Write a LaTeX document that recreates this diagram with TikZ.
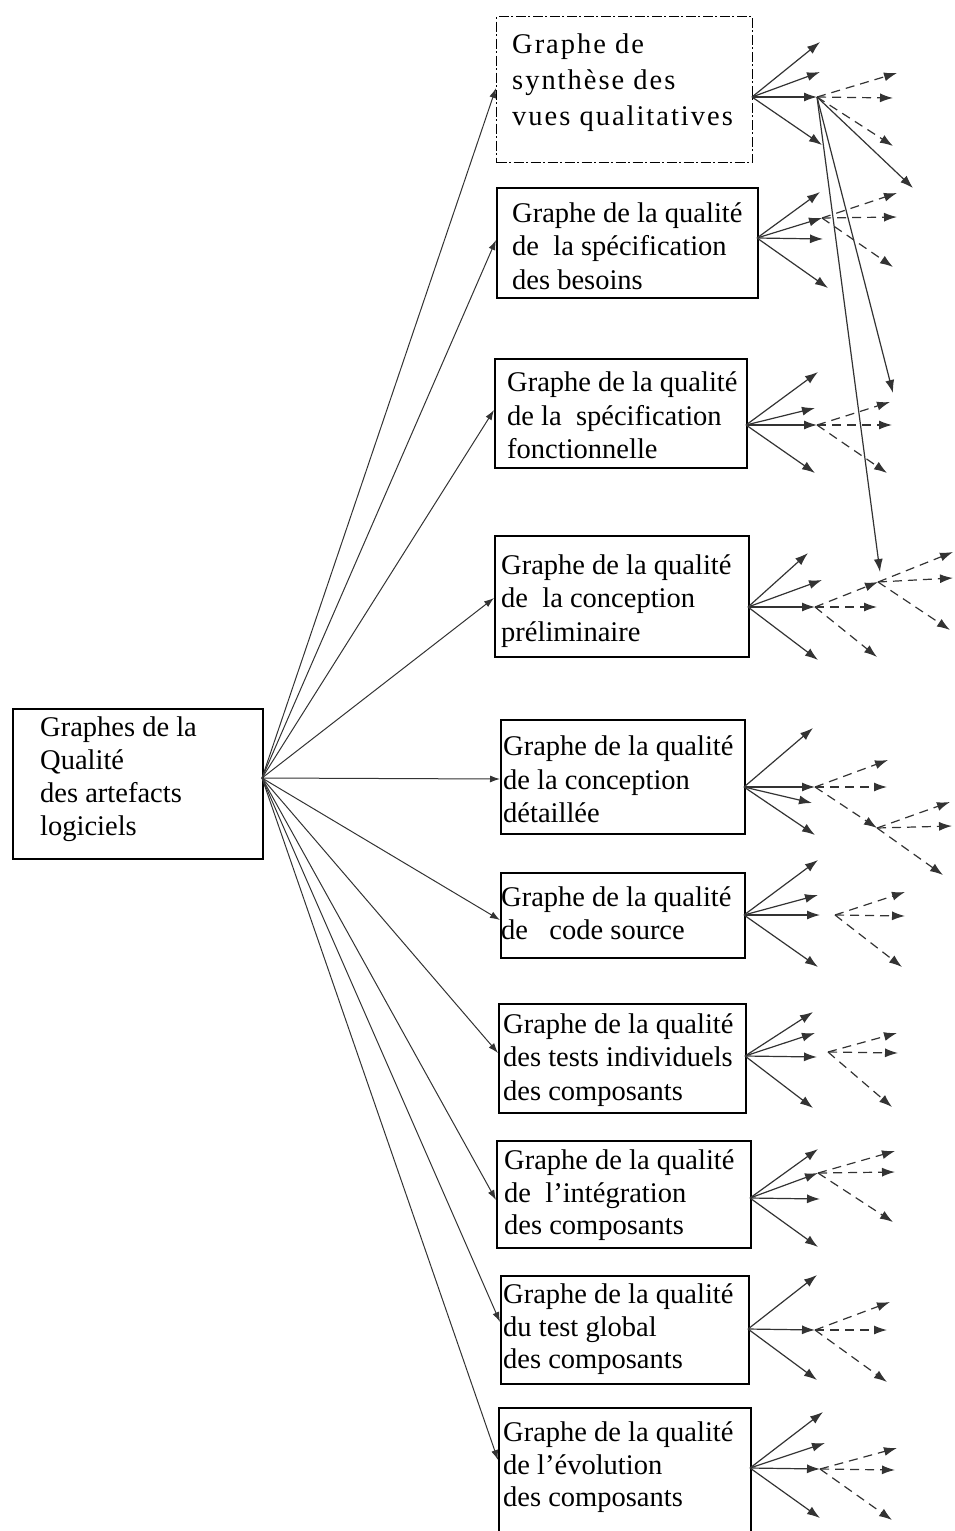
\documentclass[tikz,border=0pt]{standalone}
\usepackage{fontspec}
\setmainfont{Liberation Serif}
\usetikzlibrary{arrows.meta,calc}
\begin{document}
\begin{tikzpicture}[x=1pt,y=-1pt,
  gbox/.style={draw=black, line width=1.6pt, inner sep=0pt, anchor=north west},
  dashdotbox/.style={gbox, line width=1.4pt, dash pattern=on 10pt off 2.5pt on 2pt off 2.5pt},
  txt/.style={inner sep=0pt, align=left, anchor=west, font=\fontsize{28.5}{33.5}\selectfont},
  farr/.style={draw=black!80, line width=1pt, -{Latex[length=10pt,width=7pt]}},
  sarr/.style={draw=black!80, line width=1.2pt, -{Latex[length=13pt,width=9pt]}},
  darr/.style={draw=black!80, line width=1.2pt, dash pattern=on 9pt off 6pt, -{Latex[length=13pt,width=9pt]}}
]
\useasboundingbox (0,0) rectangle (954,1531);
\clip (0,0) rectangle (954,1531);

% boxes
\node[gbox, minimum width=250pt, minimum height=150pt] (m) at (12,708) {};
\node[dashdotbox, minimum width=256pt, minimum height=146pt] (b1) at (496,16) {};
\node[gbox, minimum width=261pt, minimum height=110pt] (b2) at (496,187) {};
\node[gbox, minimum width=252pt, minimum height=109pt] (b3) at (494,358) {};
\node[gbox, minimum width=254pt, minimum height=121pt] (b4) at (494,535) {};
\node[gbox, minimum width=244pt, minimum height=114pt] (b5) at (500,719) {};
\node[gbox, minimum width=244pt, minimum height=85pt] (b6) at (500,872) {};
\node[gbox, minimum width=247pt, minimum height=109pt] (b7) at (498,1003) {};
\node[gbox, minimum width=254pt, minimum height=107pt] (b8) at (496,1140) {};
\node[gbox, minimum width=248pt, minimum height=108pt] (b9) at (500,1275) {};
\node[gbox, minimum width=252pt, minimum height=140pt] (b10) at (498,1407) {};

% texts
\node[txt, font=\fontsize{28.5}{33}\selectfont] (tm) at (40,779) {Graphes de la\\Qualité\\des artefacts\\logiciels};
\node[txt, font=\fontsize{28.5}{36}\selectfont\addfontfeature{LetterSpace=7}] (t1) at (512,83) {Graphe de\\synthèse des\\vues\ qualitatives};
\node[txt] (t2) at (512,246) {Graphe de la qualité\\de\ \ la spécification\\des besoins};
\node[txt] (t3) at (507,415.5) {Graphe de la qualité\\de la\ \ spécification\\fonctionnelle};
\node[txt] (t4) at (501,601) {Graphe de la qualité\\de\ \ la conception\\préliminaire};
\node[txt] (t5) at (503,779.5) {Graphe de la qualité\\de la conception\\détaillée};
\node[txt] (t6) at (501,913) {Graphe de la qualité\\de\ \ \ code source};
\node[txt] (t7) at (503,1060) {Graphe de la qualité\\des tests individuels\\des composants};
\node[txt, font=\fontsize{28.5}{32.5}\selectfont] (t8) at (504,1195.5) {Graphe de la qualité\\de\ \ l’intégration\\des composants};
\node[txt, font=\fontsize{28.5}{32.5}\selectfont] (t9) at (503,1329.5) {Graphe de la qualité\\du test global\\des composants};
\node[txt, font=\fontsize{28.5}{32.5}\selectfont] (t10) at (503,1467.5) {Graphe de la qualité\\de l’évolution\\des composants};

% coordinates
\foreach \n/\x/\y in {mo/262/778,
  e1/496/88, e2/496/240, e3/494/410, e4/494/598, e5/500/779,
  e6/500/920, e7/498/1053, e8/496/1200, e9/500/1322, e10/498/1460,
  o1/752/97, s1a/820/42, s1b/820/72, s1c/817/97, s1d/822/145,
  d1a/897/73, d1b/893/98, d1c/893/146, L1/913/188, L2/893/393, L3/880/572,
  o2/757/238, s2a/820/192, s2b/822/218, s2c/823/239, s2d/828/288,
  d2a/897/193, d2b/897/217, d2c/893/267,
  o3/746/425, s3a/818/372, s3b/815/408, s3c/817/425, s3d/815/473,
  d3a/890/402, d3b/892/425, d3c/887/473,
  o4/748/607, s4a/808/553, s4b/822/580, s4c/815/607, s4d/818/660,
  d4a/878/582, d4b/877/607, d4c/877/657, d4e/953/552, d4f/953/578, d4g/950/630,
  o5/744/787, s5a/813/728, s5b/815/787, s5c/812/803, s5d/815/835,
  d5a/888/760, d5b/887/787, d5c/877/828, d5e/950/802, d5f/952/826, d5g/943/875,
  o6/744/915, s6a/818/860, s6b/818/895, s6c/820/915, s6d/818/967,
  c6/835/915, d6a/905/892, d6b/905/916, d6c/902/967,
  o7/745/1056, s7a/813/1012, s7b/815/1033, s7c/817/1057, s7d/813/1108,
  c7/828/1052, d7a/897/1033, d7b/898/1053, d7c/892/1107,
  o8/750/1198, s8a/818/1149, s8b/818/1173, s8c/820/1199, s8d/818/1247,
  d8a/895/1151, d8b/895/1172, d8c/893/1222,
  o9/748/1329, s9a/817/1275, s9b/815/1330, s9c/817/1380,
  d9a/890/1302, d9b/887/1330, d9c/887/1382,
  o10/750/1468, s10a/823/1412, s10b/825/1443, s10c/820/1469, s10d/820/1518,
  d10a/897/1448, d10b/895/1470, d10c/892/1520}
  \coordinate (\n) at (\x,\y);

% main fan
\foreach \t in {e1,e2,e3,e4,e5,e6,e7,e8,e9,e10}
  \draw[farr] (mo) -- (\t);

% solid fans
\foreach \o/\t in {o1/s1a,o1/s1b,o1/s1c,o1/s1d, s1c/L1, s1c/L2, s1c/L3,
  o2/s2a,o2/s2b,o2/s2c,o2/s2d,
  o3/s3a,o3/s3b,o3/s3c,o3/s3d,
  o4/s4a,o4/s4b,o4/s4c,o4/s4d,
  o5/s5a,o5/s5b,o5/s5c,o5/s5d,
  o6/s6a,o6/s6b,o6/s6c,o6/s6d,
  o7/s7a,o7/s7b,o7/s7c,o7/s7d,
  o8/s8a,o8/s8b,o8/s8c,o8/s8d,
  o9/s9a,o9/s9b,o9/s9c,
  o10/s10a,o10/s10b,o10/s10c,o10/s10d}
  \draw[sarr] (\o) -- (\t);

% dashed fans
\foreach \o/\t in {s1c/d1a,s1c/d1b,s1c/d1c,
  s2b/d2a,s2b/d2b,s2b/d2c,
  s3c/d3a,s3c/d3b,s3c/d3c,
  s4c/d4a,s4c/d4b,s4c/d4c, d4a/d4e,d4a/d4f,d4a/d4g,
  s5b/d5a,s5b/d5b,s5b/d5c, d5c/d5e,d5c/d5f,d5c/d5g,
  c6/d6a,c6/d6b,c6/d6c,
  c7/d7a,c7/d7b,c7/d7c,
  s8b/d8a,s8b/d8b,s8b/d8c,
  s9b/d9a,s9b/d9b,s9b/d9c,
  s10c/d10a,s10c/d10b,s10c/d10c}
  \draw[darr] (\o) -- (\t);
\end{tikzpicture}
\end{document}
